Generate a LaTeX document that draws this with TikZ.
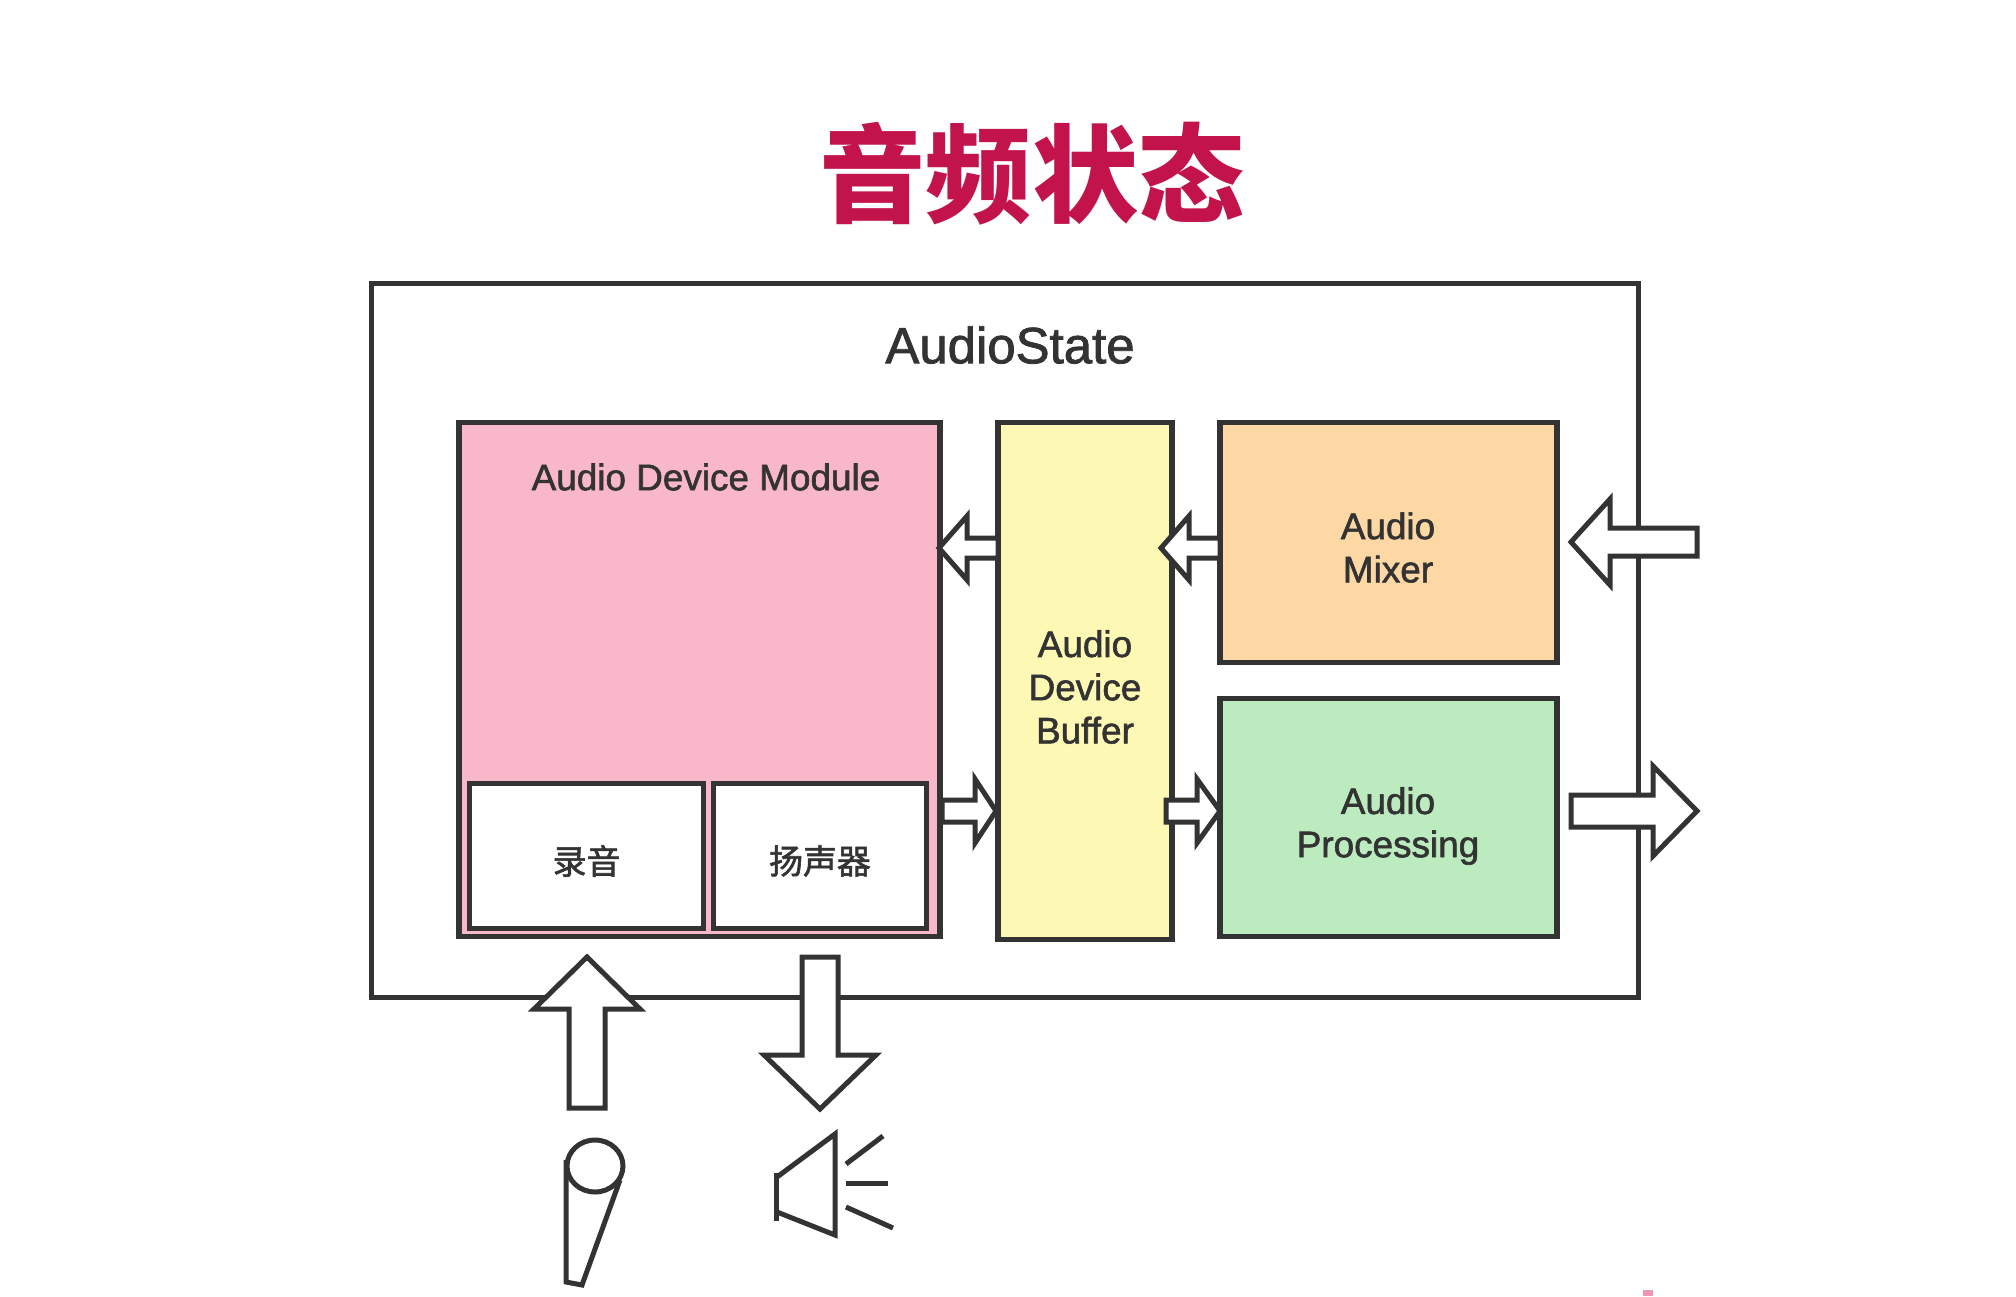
\documentclass[tikz,border=0pt]{standalone}
\usepackage{fontspec}
\setmainfont[FakeBold=1.6]{Liberation Sans}
\newfontfamily\cjk{Noto Sans CJK SC}
\newfontfamily\cjkmed[FakeBold=1.8]{Noto Sans CJK SC}
\usetikzlibrary{positioning}
\definecolor{inkline}{HTML}{333333}
\definecolor{titlered}{HTML}{C2134A}
\definecolor{admpink}{HTML}{F9B8CA}
\definecolor{bufyellow}{HTML}{FDF8B4}
\definecolor{mixorange}{HTML}{FDD8A5}
\definecolor{procgreen}{HTML}{BCEBC0}
\newcommand{\lf}{\fontsize{21}{24.6}\selectfont}
\newcommand{\cf}{\cjkmed\fontsize{19.3}{24}\selectfont}
% #1 = tip; #2 = rotation; #3 = length; #4 = head length; #5 = head half width; #6 = shaft half width
\newcommand{\blockarrow}[6]{%
  \draw[outline, fill=white, shift={(#1)}, rotate=#2] (0,0) -- (-#4,#5) -- (-#4,#6) -- (-#3,#6)
    -- (-#3,-#6) -- (-#4,-#6) -- (-#4,-#5) -- cycle;
}
\tikzset{
  outline/.style={draw=inkline, line width=0.1cm, line join=miter},
  block/.style={outline, line width=0.105cm},
  subblock/.style={outline, fill=white},
  blocklabel/.style={align=center, text=inkline, font=\lf},
  sublabel/.style={text=inkline, font=\cf},
}
\begin{document}
\begin{tikzpicture}[x=0.02cm, y=-0.02cm, every node/.style={inner sep=0pt, outer sep=0pt}]
\useasboundingbox (0,0) rectangle (2016,1296);
% ---- title and outer frame
\node[font={\cjk\bfseries\fontsize{60.5}{64}\selectfont}, text=titlered] (title) at (1032,174) {音频状态};
\node[outline, minimum width=25.36cm, minimum height=14.3cm] (audiostate) at (1005,640.5) {};
\node[font=\fontsize{29}{32}\selectfont, text=inkline] (statelabel) at (1010,345) {AudioState};
% ---- inner blocks
\node[block, fill=admpink, minimum width=9.62cm, minimum height=10.28cm] (adm) at (699.5,679.5) {};
\node[blocklabel] (admlabel) at (706,477) {Audio Device Module};
\node[block, fill=bufyellow, minimum width=3.48cm, minimum height=10.34cm] (buffer) at (1085,681) {};
\node[blocklabel] (bufferlabel) at (1085,687) {Audio\\Device\\Buffer};
\node[block, fill=mixorange, minimum width=6.74cm, minimum height=4.8cm] (mixer) at (1388.5,542.5) {};
\node[blocklabel] (mixerlabel) at (1388,547.5) {Audio\\Mixer};
\node[block, fill=procgreen, minimum width=6.74cm, minimum height=4.76cm] (processing) at (1388.5,817.5) {};
\node[blocklabel] (processinglabel) at (1388,826) {Audio\\Processing};
\node[subblock, minimum width=4.7cm, minimum height=2.9cm] (record) at (586.5,856) {};
\node[sublabel] (recordlabel) at (586.5,861) {录音};
\node[subblock, minimum width=4.28cm, minimum height=2.9cm] (speaker) at (820,856) {};
\node[sublabel] (speakerlabel) at (820,861) {扬声器};
% ---- block arrows
\blockarrow{939,548}{180}{59}{28}{32}{10}
\blockarrow{1161,548}{180}{59}{28}{32}{10}
\blockarrow{1571,542}{180}{126}{39}{43}{14}
\blockarrow{996,811}{0}{54}{21}{32}{11}
\blockarrow{1220,811}{0}{54}{23}{32}{11}
\blockarrow{1697,811}{0}{126}{44}{45}{16}
\blockarrow{587,957}{90}{151}{52}{53}{18}
\blockarrow{820,1109}{-90}{152}{54}{56}{18}
% ---- microphone
\draw[outline] (566,1160) -- (566,1282) -- (582,1285) -- (620,1180);
\draw[outline, fill=white] (595,1166) ellipse [x radius=28, y radius=26];
% ---- speaker
\draw[outline] (776,1173) -- (776,1221);
\draw[outline] (777,1177) -- (835,1134) -- (835,1235) -- (777,1212);
\draw[outline] (846,1164) -- (883,1136);
\draw[outline] (846,1183) -- (888,1183);
\draw[outline] (846,1207) -- (893,1228);
% ---- speck at the lower edge
\fill[admpink!80!titlered] (1643,1290) rectangle (1653,1296);
\end{tikzpicture}
\end{document}
